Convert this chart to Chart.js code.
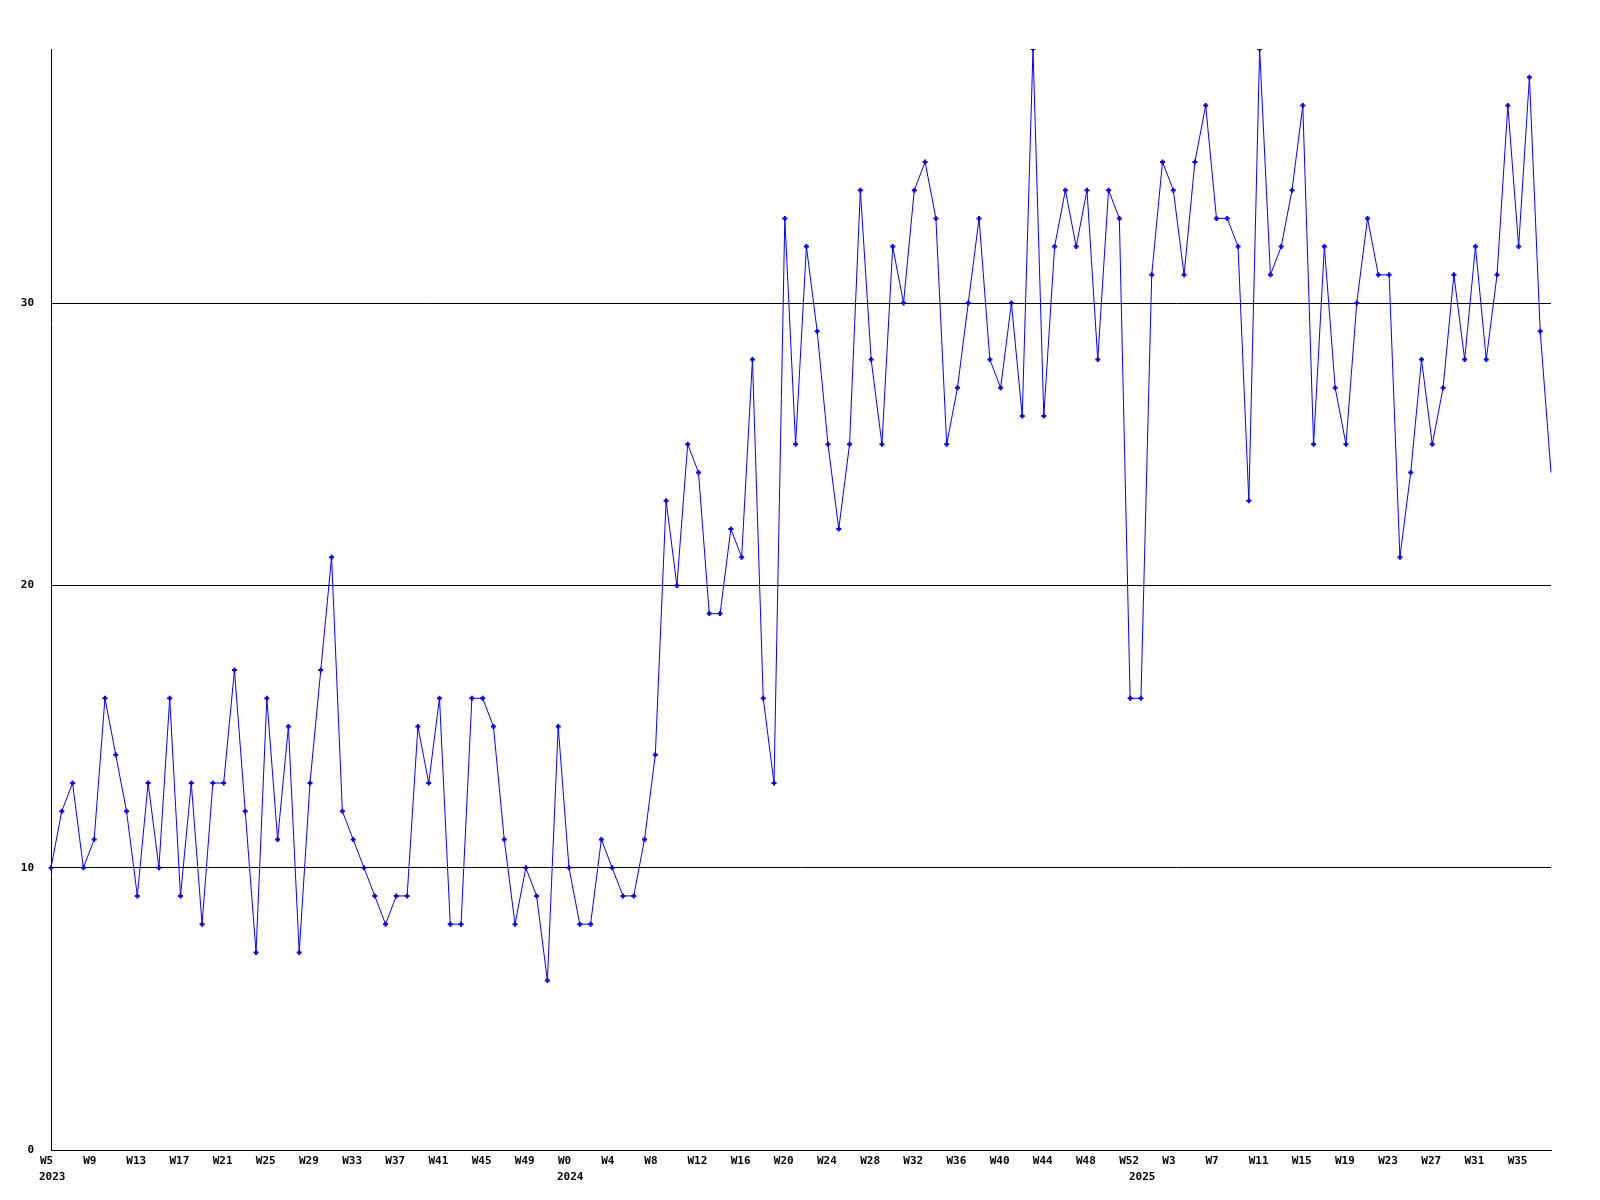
<!DOCTYPE html>
<html>
<head>
<meta charset="utf-8">
<style>
  html, body { margin: 0; padding: 0; background: #fff; }
  canvas { display: block; }
</style>
<script src="https://cdn.jsdelivr.net/npm/chart.js@4/dist/chart.umd.min.js"></script>
</head>
<body>
<canvas id="chart" width="1600" height="1200"></canvas>
<script>
// weekly counts, one array per year
const years = [2023, 2024, 2025]
const firstWeek = [5, 0, 0]
const lastWeek = [52, 52, 38]

const counts2023 = [
  10, 12, 13, 10, 11, 16, 14, 12, 9, 13, 10, 16, 9, 13, 8, 13,
  13, 17, 12, 7, 16, 11, 15, 7, 13, 17, 21, 12, 11, 10, 9, 8,
  9, 9, 15, 13, 16, 8, 8, 16, 16, 15, 11, 8, 10, 9, 6, 15,
]
const counts2024 = [
  10, 8, 8, 11, 10, 9, 9, 11, 14, 23, 20, 25, 24, 19, 19, 22,
  21, 28, 16, 13, 33, 25, 32, 29, 25, 22, 25, 34, 28, 25, 32, 30,
  34, 35, 33, 25, 27, 30, 33, 28, 27, 30, 26, 39, 26, 32, 34, 32,
  34, 28, 34, 33, 16,
]
const counts2025 = [
  16, 31, 35, 34, 31, 35, 37, 33, 33, 32, 23, 39, 31, 32, 34, 37,
  25, 32, 27, 25, 30, 33, 31, 31, 21, 24, 28, 25, 27, 31, 28, 32,
  28, 31, 37, 32, 38, 29, 24,
]
const yTicks = [0, 10, 20, 30]
const yMax = 39

// build the category rows (week label + year label at year start)
const weekLabels = []
const yearLabels = []
years.forEach((y, i) => {
  for (let w = firstWeek[i]; w <= lastWeek[i]; w++) {
    weekLabels.push('W' + w)
    yearLabels.push(w === firstWeek[i] ? String(y) : '')
  }
})
const values = [...counts2023, ...counts2024, ...counts2025]

const font = { family: '"DejaVu Sans Mono", monospace', size: 11, weight: 'bold' }
Chart.defaults.color = '#000'

new Chart(document.getElementById('chart'), {
  type: 'line',
  data: {
    labels: weekLabels,
    datasets: [{
      data: values,
      borderColor: '#0000ff',
      backgroundColor: '#0000ff',
      borderWidth: 1,
      tension: 0,
      fill: false,
      pointStyle: 'cross',
      pointRadius: ctx => (ctx.dataIndex === values.length - 1 ? 0 : 2.5),
      pointBorderWidth: 2,
      pointBorderColor: '#0000ff',
    }],
  },
  options: {
    responsive: false,
    animation: false,
    devicePixelRatio: 1,
    layout: { padding: { top: 49, right: 49, bottom: 14, left: 0 } },
    plugins: { legend: { display: false }, tooltip: { enabled: false } },
    scales: {
      x: {
        type: 'category',
        offset: false,
        grid: { display: false, drawTicks: false },
        border: { display: true, color: '#000', width: 1 },
        ticks: {
          autoSkip: false,
          maxRotation: 0,
          minRotation: 0,
          align: 'start',
          labelOffset: -11,
          padding: 5,
          font,
          callback: (v, i) => (i % 4 === 0 ? weekLabels[i] : ''),
        },
        afterFit: s => { s.height = 16 },
      },
      x2: {
        type: 'category',
        labels: yearLabels,
        position: 'bottom',
        offset: false,
        grid: { display: false, drawTicks: false },
        border: { display: false },
        ticks: {
          autoSkip: false,
          maxRotation: 0,
          minRotation: 0,
          align: 'start',
          labelOffset: -12,
          padding: 5,
          font,
        },
        afterFit: s => { s.height = 20 },
      },
      y: {
        min: 0,
        max: yMax,
        grid: { color: '#000', lineWidth: 1, drawTicks: false },
        border: { display: true, color: '#000', width: 1 },
        ticks: {
          stepSize: 10,
          includeBounds: false,
          padding: 17,
          font,
        },
        afterBuildTicks: s => { s.ticks = yTicks.map(v => ({ value: v })) },
        afterFit: s => { s.width = 51 },
      },
    },
  },
})
</script>
</body>
</html>
